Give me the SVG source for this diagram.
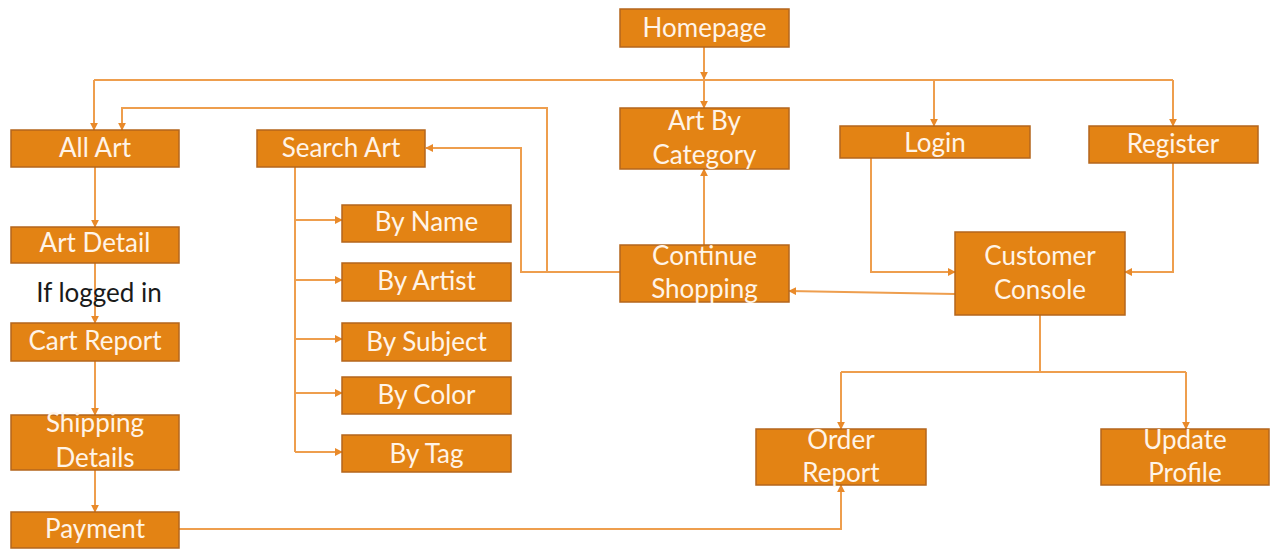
<svg xmlns="http://www.w3.org/2000/svg" width="1270" height="550" viewBox="0 0 1270 550">
<defs>
<marker id="ah" viewBox="0 0 10 10" refX="9" refY="5" markerWidth="8" markerHeight="8" markerUnits="userSpaceOnUse" orient="auto">
<path d="M0,0 L10,5 L0,10 Z" fill="#E98A2A"/>
</marker>
<style>
.box{fill:#E38314;stroke:#B4661C;stroke-width:1.5}
.t{font-family:Lato,"Open Sans","Liberation Sans",sans-serif;font-size:26px;fill:#FFF4E8;text-anchor:middle}
.lbl{font-family:Lato,"Open Sans","Liberation Sans",sans-serif;font-size:26px;fill:#1a1a1a;text-anchor:middle}
.c{fill:none;stroke:#EE9E4E;stroke-width:2}
.a{marker-end:url(#ah)}
</style>
</defs>
<rect width="1270" height="550" fill="#ffffff"/>
<g id="connectors">
<path class="c a" d="M704,47 V79"/>
<path class="c" d="M94,80 H1173"/>
<path class="c a" d="M94,80 V130"/>
<path class="c a" d="M704,80 V108"/>
<path class="c a" d="M934,80 V126"/>
<path class="c a" d="M1173,80 V126"/>
<path class="c a" d="M620,272 H547 V108 H122 V130"/>
<path class="c a" d="M547,272 H521 V148 H426"/>
<path class="c a" d="M704,245 V169"/>
<path class="c" d="M295,167 V452"/>
<path class="c a" d="M295,220 H342"/>
<path class="c a" d="M295,280 H342"/>
<path class="c a" d="M295,339 H342"/>
<path class="c a" d="M295,393 H342"/>
<path class="c a" d="M295,452 H342"/>
<path class="c a" d="M95,167 V227"/>
<path class="c a" d="M95,263 V323"/>
<path class="c a" d="M95,361 V415"/>
<path class="c a" d="M95,470 V512"/>
<path class="c a" d="M179,529 H841 V485"/>
<path class="c a" d="M871,158 V272 H955"/>
<path class="c a" d="M1173,163 V272 H1125"/>
<path class="c a" d="M955,294 L789,291"/>
<path class="c" d="M1040,315 V372"/>
<path class="c" d="M841,372 H1186"/>
<path class="c a" d="M841,372 V429"/>
<path class="c a" d="M1186,372 V429"/>
</g>
<g id="homepage"><rect class="box" x="620" y="9" width="169" height="38"/><text class="t" x="704.5" y="37">Homepage</text></g>
<g id="all-art"><rect class="box" x="11" y="130" width="168" height="37"/><text class="t" x="95" y="157">All Art</text></g>
<g id="search-art"><rect class="box" x="257" y="130" width="168" height="37"/><text class="t" x="341" y="157">Search Art</text></g>
<g id="art-by-category"><rect class="box" x="620" y="108" width="169" height="61"/><text class="t" x="704.5" y="130">Art By</text><text class="t" x="704.5" y="164">Category</text></g>
<g id="login"><rect class="box" x="840" y="126" width="190" height="32"/><text class="t" x="935" y="152">Login</text></g>
<g id="register"><rect class="box" x="1089" y="126" width="169" height="37"/><text class="t" x="1173" y="153">Register</text></g>
<g id="art-detail"><rect class="box" x="11" y="227" width="168" height="36"/><text class="t" x="95" y="252">Art Detail</text></g>
<g id="by-name"><rect class="box" x="342" y="205" width="169" height="37"/><text class="t" x="426.5" y="231">By Name</text></g>
<g id="by-artist"><rect class="box" x="342" y="263" width="169" height="38"/><text class="t" x="426.5" y="290">By Artist</text></g>
<g id="continue-shopping"><rect class="box" x="620" y="245" width="169" height="57"/><text class="t" x="704.5" y="265">Continue</text><text class="t" x="704.5" y="298">Shopping</text></g>
<g id="customer-console"><rect class="box" x="955" y="232" width="170" height="83"/><text class="t" x="1040" y="265">Customer</text><text class="t" x="1040" y="299">Console</text></g>
<g id="if-logged-in"><text class="lbl" x="99" y="302">If logged in</text></g>
<g id="cart-report"><rect class="box" x="11" y="323" width="168" height="38"/><text class="t" x="95" y="350">Cart Report</text></g>
<g id="by-subject"><rect class="box" x="342" y="323" width="169" height="38"/><text class="t" x="426.5" y="351">By Subject</text></g>
<g id="by-color"><rect class="box" x="342" y="377" width="169" height="37"/><text class="t" x="426.5" y="404">By Color</text></g>
<g id="by-tag"><rect class="box" x="342" y="435" width="169" height="37"/><text class="t" x="426.5" y="463">By Tag</text></g>
<g id="shipping-details"><rect class="box" x="11" y="415" width="168" height="55"/><text class="t" x="95" y="432">Shipping</text><text class="t" x="95" y="467">Details</text></g>
<g id="order-report"><rect class="box" x="756" y="429" width="170" height="56"/><text class="t" x="841" y="449">Order</text><text class="t" x="841" y="482">Report</text></g>
<g id="update-profile"><rect class="box" x="1101" y="429" width="168" height="56"/><text class="t" x="1185" y="449">Update</text><text class="t" x="1185" y="482">Profile</text></g>
<g id="payment"><rect class="box" x="11" y="512" width="168" height="36"/><text class="t" x="95" y="538">Payment</text></g>
</svg>
